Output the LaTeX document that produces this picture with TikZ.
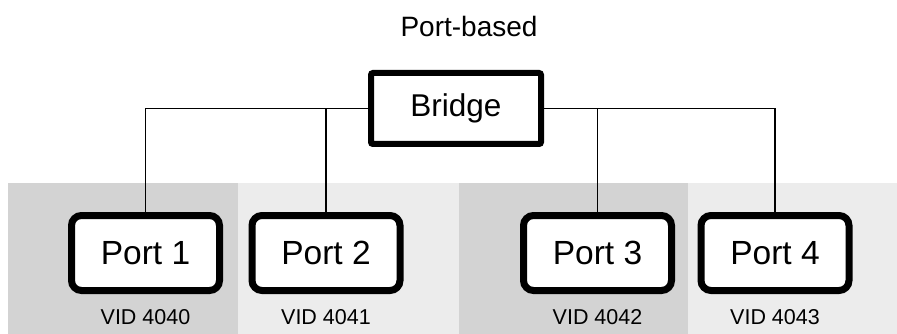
\documentclass[tikz,border=0pt]{standalone}
\usepackage{fontspec}
\setmainfont{Liberation Sans}
\usepackage{tikz}

\definecolor{bandlight}{RGB}{236,236,236}
\definecolor{banddark}{RGB}{211,211,211}

\tikzset{
  bridgebox/.style={draw, line width=6pt, fill=white, rounded corners=2pt,
    minimum width=170pt, minimum height=71pt, font=\fontsize{31.5}{36}\selectfont},
  portbox/.style={draw, line width=7pt, fill=white, rounded corners=10pt,
    minimum width=148pt, minimum height=75pt, font=\fontsize{33.5}{40}\selectfont},
  vidlabel/.style={font=\fontsize{21.5}{25}\selectfont},
  link/.style={line width=1.8pt}
}

\begin{document}
\begin{tikzpicture}[x=1pt,y=-1pt]
	\useasboundingbox (0,0) rectangle (897,334);
	
	% Draw the background bands
	\fill[bandlight] (8,183) rectangle (897,334);
	\fill[banddark] (8,183) rectangle (238,334);
	\fill[banddark] (459,183) rectangle (688,334);
	
	% Title
	\node[font=\fontsize{28}{32}\selectfont] (title) at (469,26) {Port-based};
	
	% Draw the bridge
	\node[bridgebox] (bridge) at (456,108.5) {Bridge};
	
	% Draw the ports and their VIDs
	\foreach \x/\n/\v in {145.5/1/4040, 326/2/4041, 597.5/3/4042, 775/4/4043}
	{
		\node[portbox] (p\n) at (\x,253) {Port \n};
		\node[vidlabel] (v\n) at (\x,317) {VID \v};
	}
	
	% Connect the ports to the bridge
	\draw[link] (bridge.west) -| (p1.north);
	\draw[link] (p2.north) |- (bridge.west);
	\draw[link] (bridge.east) -| (p4.north);
	\draw[link] (p3.north) |- (bridge.east);
\end{tikzpicture}
\end{document}
